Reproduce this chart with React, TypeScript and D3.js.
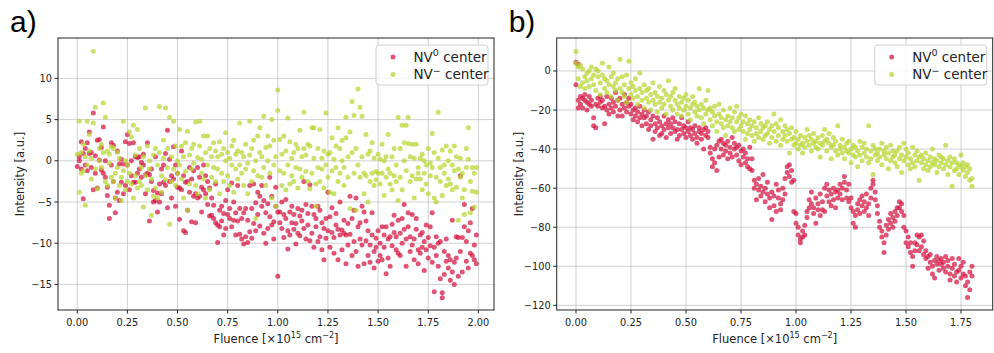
import React from 'react';
import * as d3 from 'd3';

// rows: [fluence, intensity, intensity, ...]
const nv0A: number[][] = [
  [0.00,-0.7],[0.01,0.5,0.0],[0.02,2.3,-1.0],[0.03,-4.6,0.9],[0.04,-0.5,1.5],[0.05,2.2,-1.2],[0.06,3.5,0.9],[0.07,-0.8,1.0],[0.08,5.8,-3.5],[0.09,0.6,-1.5],[0.10,2.5,-3.3],
  [0.11,2.6,0.1],[0.12,-1.1,1.6],[0.13,4.1,-1.5],[0.14,-2.0,0.0],[0.15,-4.2,-3.2],[0.16,-5.4,-7.0],[0.17,2.2,-0.5],[0.18,1.9,-2.5],[0.19,-6.3,-4.5],[0.20,-3.8,1.2],
  [0.21,-4.8,-0.4],[0.22,-2.6,0.2],[0.23,-0.4,-4.0],[0.24,-3.0,2.3],[0.25,3.2,-0.5],[0.26,2.1,-3.5],[0.27,-1.8,0.0],[0.28,-2.6,2.2],[0.29,-2.6,0.5],[0.30,-1.5,0.4],
  [0.31,-1.0,0.5],[0.32,-0.2,-2.0],[0.33,0.8,-0.5],[0.34,-1.7,-4.0],[0.35,-1.5,2.2],[0.36,-1.7,-7.3],[0.37,-2.5,-1.0],[0.38,-3.6,-5.0],[0.39,0.5,-4.8],[0.40,-3.9,-6.2],
  [0.41,-2.8,-5.0],[0.42,-1.0,-4.0],[0.43,-2.6,-0.5],[0.44,0.9,-3.0],[0.45,3.7,-5.7],[0.46,-2.5,0.2],[0.47,-1.8,-4.5],[0.48,1.7,-2.2],[0.49,-0.5,-5.5],[0.50,-3.2,-1.5],
  [0.51,-7.1,-3.3],[0.52,1.2,-3.5],[0.53,-1.8,-8.5],[0.54,-2.6,-8.7],[0.55,-2.5,-6.0],[0.56,-0.8,-3.8],[0.57,-7.4,-2.2],[0.58,-4.3,-1.2],[0.59,-4.0,-7.5],[0.60,-0.8,-4.5],
  [0.61,-4.3,-2.0],[0.62,-3.2,-6.2],[0.63,-0.5,-3.5],[0.64,-1.8,-4.0],[0.65,-2.5,-5.3],[0.66,-3.3,-6.7],[0.67,-6.6,-4.5],[0.68,-7.0,-5.4],[0.69,-2.8,-7.5],[0.70,-7.8,-9.9],
  [0.71,-8.0,-6.0],[0.72,-5.5,-7.3],[0.73,-9.0,-6.4],[0.74,-4.8,-8.2],[0.75,-6.5,-3.5],[0.76,-7.0,-5.8],[0.77,-2.7,-8.0],[0.78,-7.2,-5.0],[0.79,-9.0,-6.3],[0.80,-7.3,-3.0],
  [0.81,-8.9,-5.8],[0.82,-9.5,-7.0],[0.83,-10.1,-6.3],[0.84,-9.2,-5.8],[0.85,-9.9,-7.2],[0.86,-3.0,-8.6],[0.87,-5.8,-9.4],[0.88,-2.8,-7.6],[0.89,-5.1,-8.5],[0.90,-3.8,-6.5],
  [0.91,-4.3,-7.9],[0.92,-3.0,-5.5],[0.93,-8.8,-4.8],[0.94,-6.3,-10.0],[0.95,-5.2,-8.2],[0.96,-2.0,-6.8],[0.97,-7.8,-4.3],[0.98,-9.5,-7.4],[0.99,-3.2,-5.5],[1.00,-6.2,-14.0],
  [1.01,-7.5,-6.2],[1.02,-8.2,-5.0],[1.03,-9.3,-6.5],[1.04,-7.0,-4.7],[1.05,-10.7,-8.5],[1.06,-6.2,-9.0],[1.07,-7.5,-5.5],[1.08,-8.3,-6.5],[1.09,-10.1,-7.6],[1.10,-5.8,-8.8],
  [1.11,-6.7,-9.1],[1.12,-6.0,-7.3],[1.13,-2.5,-8.2],[1.14,-5.3,-9.5],[1.15,-7.8,-6.4],[1.16,-2.9,-9.7],[1.17,-5.5,-8.8],[1.18,-6.5,-10.5],[1.19,-8.0,-7.0],[1.20,-5.5,-9.8],
  [1.21,-9.2,-6.0],[1.22,-10.8,-7.5],[1.23,-12.0,-8.2],[1.24,-7.0,-9.4],[1.25,-3.8,-8.5],[1.26,-6.8,-10.5],[1.27,-5.7,-8.7],[1.28,-9.3,-11.2],[1.29,-7.8,-6.4],[1.30,-8.3,-12.0],
  [1.31,-5.0,-9.0],[1.32,-8.4,-10.8],[1.33,-8.8,-7.2],[1.34,-9.0,-12.5],[1.35,-7.6,-10.2],[1.36,-4.3,-8.9],[1.37,-11.5,-7.0],[1.38,-9.8,-6.0],[1.39,-4.5,-11.0],[1.40,-8.0,-12.8],
  [1.41,-7.5,-9.5],[1.42,-5.5,-10.2],[1.43,-6.2,-12.5],[1.44,-9.7,-7.3],[1.45,-11.5,-8.5],[1.46,-10.2,-12.3],[1.47,-9.0,-6.3],[1.48,-11.0,-13.0],[1.49,-9.4,-10.5],[1.50,-8.5,-12.2],
  [1.51,-10.0,-11.5],[1.52,-8.0,-12.0],[1.53,-10.5,-9.0],[1.54,-8.0,-13.7],[1.55,-11.8,-9.5],[1.56,-9.2,-12.8],[1.57,-7.7,-10.3],[1.58,-8.7,-6.6],[1.59,-9.2,-10.8],[1.60,-7.2,-11.2],
  [1.61,-8.8,-11.5],[1.62,-7.0,-10.0],[1.63,-5.3,-8.3],[1.64,-9.5,-12.8],[1.65,-6.3,-8.0],[1.66,-9.2,-11.0],[1.67,-10.2,-6.5],[1.68,-9.5,-12.0],[1.69,-8.3,-7.0],[1.70,-10.8,-12.5],
  [1.71,-9.0,-11.2],[1.72,-8.7,-10.5],[1.73,-13.3,-9.8],[1.74,-7.8,-10.8],[1.75,-11.8,-9.3],[1.76,-10.3,-8.0],[1.77,-6.3,-12.3],[1.78,-10.5,-15.9],[1.79,-9.2,-11.5],[1.80,-10.0,-12.8],
  [1.81,-14.3,-9.8],[1.82,-16.0,-16.6],[1.83,-13.8,-11.0],[1.84,-12.2,-9.5],[1.85,-13.0,-11.5],[1.86,-14.5,-12.0],[1.87,-13.5,-7.2],[1.88,-12.3,-15.0],[1.89,-9.2,-11.8],[1.90,-14.0,-9.3],
  [1.91,-11.0,-1.8],[1.92,-9.3,-13.5],[1.93,-5.3,-8.0],[1.94,-9.8,-12.2],[1.95,-8.5,-13.0],[1.96,-11.2,-7.5],[1.97,-11.5,-5.8],[1.98,-12.0,-10.2],[1.99,-12.5,-9.0],
];

const nvmA: number[][] = [
  [0.00,0.8],[0.01,4.8,-3.8],[0.02,-1.5,1.0],[0.03,2.0,-1.2],[0.04,-5.4,0.5],[0.05,4.8,-0.5],[0.06,1.2,3.2],[0.07,-2.2,0.3],[0.08,13.3,4.6],[0.09,6.5,-1.0],[0.10,-3.4],
  [0.11,1.5,0.0],[0.12,2.0,-0.8],[0.13,7.0,1.0],[0.14,5.3,-2.5],[0.15,1.2,-3.0],[0.16,-0.3,0.8],[0.17,-2.0,1.7],[0.18,-2.5,1.5],[0.19,-4.5,-1.5],[0.20,-0.8,1.0],
  [0.21,-3.0,0.3],[0.22,-2.0,-4.8],[0.23,4.8,-1.2],[0.24,-3.5,0.0],[0.25,-0.5,-2.5],[0.26,-1.5,3.5],[0.27,2.9,-2.8],[0.28,-4.5,4.3],[0.29,-1.8,0.7],[0.30,3.8,-3.3],
  [0.31,-2.5,1.5],[0.32,-0.8,-3.0],[0.33,0.5,-5.6],[0.34,6.4,-1.8],[0.35,1.8,-3.5],[0.36,0.0,-1.0],[0.37,-6.6,-2.2],[0.38,-4.3,0.7],[0.39,1.5,-3.3],[0.40,-0.5,-4.5],
  [0.41,6.6,1.0],[0.42,-1.8,-3.8],[0.43,2.5,0.3],[0.44,6.4,-2.3],[0.45,-0.8,1.5],[0.46,5.3,-7.7],[0.47,0.5,-2.5],[0.48,4.8,-1.0],[0.49,1.8,-3.0],[0.50,0.0,-1.5],
  [0.51,3.8,-0.5],[0.52,-2.2,1.8],[0.53,0.5,-4.5],[0.54,2.2,-1.3],[0.55,3.6,-6.0],[0.56,0.7,-2.8],[0.57,1.5,-1.0],[0.58,-0.3,2.0],[0.59,4.7,-3.0],[0.60,0.4,-4.0],
  [0.61,4.8,1.8],[0.62,0.2,-1.5],[0.63,-2.2,3.0],[0.64,1.0,-4.5],[0.65,3.0,-0.5],[0.66,-3.5,1.5],[0.67,0.5,-2.0],[0.68,2.2,-0.8],[0.69,1.2,-2.5],[0.70,-1.0,0.5],
  [0.71,2.3,-4.0],[0.72,-1.5,0.8],[0.73,1.5,-2.5],[0.74,3.4,0.0],[0.75,-1.8,1.0],[0.76,-3.0,0.3],[0.77,-0.5,1.8],[0.78,2.5,-3.8],[0.79,0.8,-1.0],[0.80,-2.2,1.2],
  [0.81,4.6,-0.5],[0.82,-1.5,1.0],[0.83,-3.0,0.5],[0.84,-1.0,2.0],[0.85,-0.3,-4.0],[0.86,4.8,0.7],[0.87,-2.5,1.5],[0.88,-1.2,2.5],[0.89,-7.0,0.0],[0.90,3.0,-1.8],
  [0.91,4.0,1.0],[0.92,-2.0,0.5],[0.93,5.4,-0.8],[0.94,1.6,-3.0],[0.95,3.0,0.0],[0.96,-1.5,1.8],[0.97,5.0,-4.5],[0.98,2.5,-0.5],[0.99,-5.5,0.5],[1.00,8.6,6.1],
  [1.01,2.6,-1.2],[1.02,0.8,-3.0],[1.03,3.0,-1.5],[1.04,-3.5,1.2],[1.05,5.2,-0.5],[1.06,-2.8,2.3],[1.07,0.3,-1.8],[1.08,1.0,-2.5],[1.09,2.0,-0.8],[1.10,1.5,-3.3],
  [1.11,3.7,-1.0],[1.12,0.5,-2.0],[1.13,5.9,1.5],[1.14,-1.3,0.7],[1.15,-2.5,2.0],[1.16,1.8,-3.4],[1.17,4.0,-1.5],[1.18,0.3,4.0],[1.19,-2.8,-5.5],[1.20,1.5,-0.8],
  [1.21,3.8,-2.5],[1.22,-1.0,0.3],[1.23,-3.3,1.2],[1.24,5.8,-0.5],[1.25,0.8,-2.0],[1.26,1.0,-3.8],[1.27,2.8,-1.2],[1.28,0.2,-4.0],[1.29,1.8,-0.8],[1.30,4.0,-2.5],
  [1.31,1.5,-1.5],[1.32,2.5,0.0],[1.33,-0.8,-3.0],[1.34,5.3,2.8],[1.35,0.5,-2.0],[1.36,3.5,-5.8],[1.37,7.2,1.0],[1.38,5.5,-1.5],[1.39,1.5,-6.0],[1.40,8.7,-0.5],
  [1.41,6.5,-2.0],[1.42,5.4,0.5],[1.43,-1.5,-4.0],[1.44,3.2,-1.8],[1.45,0.8,-5.0],[1.46,-2.5,1.2],[1.47,2.2,-1.5],[1.48,-3.0,0.3],[1.49,-1.3,-2.3],[1.50,0.8,-1.5],
  [1.51,-2.8,0.2],[1.52,-1.5,2.0],[1.53,0.0,-4.2],[1.54,-2.0,0.5],[1.55,3.2,-1.0],[1.56,-2.8,-1.5],[1.57,0.5,-3.5],[1.58,-1.8,1.5],[1.59,-2.5,-0.5],[1.60,5.3,-4.8],
  [1.61,1.5,-2.0],[1.62,4.3,-3.5],[1.63,2.2,0.0],[1.64,4.3,-1.2],[1.65,5.3,2.1],[1.66,-2.5,0.5],[1.67,2.0,-1.8],[1.68,-4.5,0.3],[1.69,2.0,-2.2],[1.70,-0.8,-1.5],
  [1.71,0.3,-2.2],[1.72,0.8,-3.5],[1.73,-1.5,0.0],[1.74,-0.5,-2.8],[1.75,1.5,-4.0],[1.76,-0.3,-1.8],[1.77,3.3,-0.8],[1.78,-4.5,1.0],[1.79,-2.0,-5.0],[1.80,5.9,0.3],
  [1.81,-0.8,-2.5],[1.82,1.3,-4.2],[1.83,-0.5,-1.5],[1.84,1.8,-3.0],[1.85,0.0,-2.2],[1.86,-2.8,1.2],[1.87,-3.5,-0.5],[1.88,1.8,-1.2],[1.89,-3.2,0.5],[1.90,-7.2,-1.0],
  [1.91,-2.0,0.3],[1.92,-4.5,-1.5],[1.93,-6.5,-3.5],[1.94,1.5,-0.8],[1.95,4.0,0.2],[1.96,-2.5,-6.3],[1.97,-0.8,-3.7],[1.98,-5.6,-1.5],[1.99,-0.8,-3.8],
];

const nv0B: number[][] = [
  [0.00,4.5,-7],[0.01,3.5,-15,-19],[0.02,-13,-17],[0.03,-14,-19],[0.04,-15,-12],[0.05,-16,-20],[0.06,-13,-17],[0.07,-15,-18],[0.08,-24,-28],[0.09,-29,-17],[0.10,-18,-14],
  [0.11,-16,-13],[0.12,-19,-15],[0.13,-27,-18],[0.14,-13,-20],[0.15,-17,-22],[0.16,-19,-14],[0.17,-21,-16],[0.18,-11,-18],[0.19,-15,-23],[0.20,-14,-20],
  [0.21,-17,-23],[0.22,-19,-12],[0.23,-16,-21],[0.24,-18,-14],[0.25,-22,-17],[0.26,-20,-25],[0.27,-19,-23],[0.28,-26,-21],[0.29,-18,-24],[0.30,-22,-28],
  [0.31,-24,-20],[0.32,-27,-23],[0.33,-21,-30],[0.34,-25,-28],[0.35,-35,-23],[0.36,-27,-31],[0.37,-29,-24],[0.38,-26,-33],[0.39,-28,-32],[0.40,-23,-30],
  [0.41,-27,-34],[0.42,-25,-29],[0.43,-32,-27],[0.44,-29,-24],[0.45,-26,-31],[0.46,-30,-35],[0.47,-27,-33],[0.48,-24,-30],[0.49,-32,-28],[0.50,-29,-34],
  [0.51,-26,-31],[0.52,-33,-29],[0.53,-35,-30],[0.54,-28,-32],[0.55,-34,-37],[0.56,-31,-29],[0.57,-35,-32],[0.58,-30,-40],[0.59,-33,-29],[0.60,-31,-34],
  [0.61,-39,-42],[0.62,-45,-49],[0.63,-40,-47],[0.64,-51,-38],[0.65,-36,-44],[0.66,-35,-40],[0.67,-37,-43],[0.68,-41,-38],[0.69,-36,-45],[0.70,-39,-42],
  [0.71,-34,-44],[0.72,-40,-37],[0.73,-43,-39],[0.74,-38,-46],[0.75,-41,-48],[0.76,-44,-40],[0.77,-47,-42],[0.78,-49,-45],[0.79,-39,-50],[0.80,-45,-51],
  [0.81,-56,-60],[0.82,-58,-66],[0.83,-61,-55],[0.84,-64,-59],[0.85,-53,-62],[0.86,-60,-67],[0.87,-63,-57],[0.88,-65,-70],[0.89,-76,-62],[0.90,-64,-69],
  [0.91,-58,-72],[0.92,-65,-61],[0.93,-68,-71],[0.94,-60,-66],[0.95,-55,-63],[0.96,-49,-52],[0.97,-48,-54],[0.98,-51,-57],[0.99,-56,-72],[1.00,-73,-78],
  [1.01,-80,-84],[1.02,-86,-88],[1.03,-85,-82],[1.04,-79,-84],[1.05,-75,-72],[1.06,-70,-66],[1.07,-62,-68],[1.08,-73,-70],[1.09,-65,-78],[1.10,-71,-68],
  [1.11,-74,-63],[1.12,-67,-71],[1.13,-60,-72],[1.14,-64,-58],[1.15,-67,-61],[1.16,-63,-69],[1.17,-66,-60],[1.18,-62,-70],[1.19,-65,-61],[1.20,-58,-63],
  [1.21,-66,-60],[1.22,-54,-57],[1.23,-61,-65],[1.24,-58,-67],[1.25,-70,-65],[1.26,-78,-72],[1.27,-80,-74],[1.28,-71,-68],[1.29,-66,-73],[1.30,-69,-64],
  [1.31,-72,-67],[1.32,-63,-70],[1.33,-68,-74],[1.34,-65,-60],[1.35,-56,-58],[1.36,-62,-66],[1.37,-73,-69],[1.38,-80,-77],[1.39,-85,-82],[1.40,-93,-88],
  [1.41,-84,-79],[1.42,-76,-81],[1.43,-73,-78],[1.44,-75,-80],[1.45,-72,-77],[1.46,-74,-70],[1.47,-67,-70],[1.48,-68,-72],[1.49,-74,-80],[1.50,-82,-88],
  [1.51,-90,-85],[1.52,-93,-88],[1.53,-95,-100],[1.54,-88,-92],[1.55,-84,-89],[1.56,-85,-92],[1.57,-84,-90],[1.58,-87,-94],[1.59,-92,-96],[1.60,-95,-101],
  [1.61,-98,-94],[1.62,-100,-104],[1.63,-97,-106],[1.64,-99,-95],[1.65,-102,-97],[1.66,-96,-99],[1.67,-98,-101],[1.68,-95,-103],[1.69,-100,-97],[1.70,-104,-107],
  [1.71,-101,-96],[1.72,-99,-105],[1.73,-103,-108],[1.74,-96,-102],[1.75,-100,-106],[1.76,-98,-104],[1.77,-105,-110],[1.78,-108,-116],[1.79,-103,-112],[1.80,-105,-100],
];

const nvmB: number[][] = [
  [0.00,10,4],[0.01,2,-4],[0.02,3,-8],[0.03,1,-6],[0.04,-3,-9],[0.05,-1,-5],[0.06,0,-8],[0.07,-4,2],[0.08,-7,-2],[0.09,1,-10],[0.10,-3,0],
  [0.11,-6,-12],[0.12,-2,4],[0.13,-9,-4],[0.14,-5,-11],[0.15,2,-7],[0.16,-3,-13],[0.17,-8,-1],[0.18,-10,-6],[0.19,-4,-15],[0.20,6,-9],
  [0.21,-11,-3],[0.22,-7,-13],[0.23,-2,-16],[0.24,5,-9],[0.25,-12,-6],[0.26,-8,-14],[0.27,-10,-4],[0.28,-13,-17],[0.29,-1,-9],[0.30,-11,-15],
  [0.31,-7,-19],[0.32,-14,-10],[0.33,-9,-16],[0.34,-12,-20],[0.35,-6,-15],[0.36,-17,-11],[0.37,-13,-21],[0.38,-8,-16],[0.39,-14,-19],[0.40,-10,-17],
  [0.41,-12,-22],[0.42,-5,-15],[0.43,-18,-13],[0.44,-11,-20],[0.45,-15,-9],[0.46,-17,-22],[0.47,-13,-19],[0.48,-16,-23],[0.49,-20,-14],[0.50,-18,-12],
  [0.51,-15,-22],[0.52,-19,-25],[0.53,-17,-13],[0.54,-21,-16],[0.55,-23,-18],[0.56,-9,-20],[0.57,-24,-17],[0.58,-19,-27],[0.59,-22,-15],[0.60,-10,-20],
  [0.61,-25,-19],[0.62,-21,-28],[0.63,-18,-23],[0.64,-26,-31],[0.65,-22,-17],[0.66,-27,-24],[0.67,-20,-29],[0.68,-25,-33],[0.69,-23,-28],[0.70,-19,-26],
  [0.71,-29,-24],[0.72,-21,-31],[0.73,-26,-18],[0.74,-24,-30],[0.75,-28,-22],[0.76,-31,-26],[0.77,-23,-35],[0.78,-27,-32],[0.79,-30,-25],[0.80,-33,-28],
  [0.81,-26,-36],[0.82,-29,-32],[0.83,-24,-34],[0.84,-31,-27],[0.85,-35,-29],[0.86,-28,-33],[0.87,-32,-26],[0.88,-30,-37],[0.89,-34,-28],[0.90,-22,-31],
  [0.91,-27,-36],[0.92,-33,-29],[0.93,-25,-38],[0.94,-31,-35],[0.95,-28,-33],[0.96,-36,-30],[0.97,-32,-42],[0.98,-29,-35],[0.99,-34,-38],[1.00,-31,-37],
  [1.01,-35,-40],[1.02,-33,-38],[1.03,-37,-42],[1.04,-34,-39],[1.05,-30,-36],[1.06,-38,-33],[1.07,-35,-41],[1.08,-32,-37],[1.09,-36,-39],[1.10,-40,-34],
  [1.11,-37,-44],[1.12,-33,-38],[1.13,-30,-36],[1.14,-35,-41],[1.15,-37,-32],[1.16,-39,-45],[1.17,-34,-38],[1.18,-41,-36],[1.19,-28,-43],[1.20,-38,-40],
  [1.21,-35,-42],[1.22,-39,-45],[1.23,-37,-41],[1.24,-42,-36],[1.25,-40,-47],[1.26,-38,-43],[1.27,-44,-39],[1.28,-41,-49],[1.29,-36,-43],[1.30,-39,-46],
  [1.31,-42,-37],[1.32,-44,-40],[1.33,-28,-47],[1.34,-41,-45],[1.35,-38,-53],[1.36,-43,-40],[1.37,-46,-42],[1.38,-40,-44],[1.39,-37,-48],[1.40,-43,-41],
  [1.41,-45,-39],[1.42,-42,-50],[1.43,-38,-46],[1.44,-44,-41],[1.45,-47,-43],[1.46,-41,-49],[1.47,-45,-39],[1.48,-43,-52],[1.49,-37,-46],[1.50,-44,-40],
  [1.51,-48,-42],[1.52,-45,-50],[1.53,-39,-47],[1.54,-43,-49],[1.55,-46,-41],[1.56,-56,-44],[1.57,-47,-43],[1.58,-45,-50],[1.59,-42,-48],[1.60,-46,-51],
  [1.61,-44,-49],[1.62,-40,-47],[1.63,-48,-45],[1.64,-46,-52],[1.65,-43,-49],[1.66,-47,-44],[1.67,-50,-45],[1.68,-38,-48],[1.69,-46,-53],[1.70,-49,-44],
  [1.71,-47,-59],[1.72,-45,-51],[1.73,-50,-47],[1.74,-48,-53],[1.75,-43,-49],[1.76,-51,-47],[1.77,-49,-54],[1.78,-48,-52],[1.79,-50,-56],[1.80,-55,-59],
];

const xTicksA = [0, 0.25, 0.5, 0.75, 1, 1.25, 1.5, 1.75, 2];
const yTicksA = [-15, -10, -5, 0, 5, 10];
const xTicksB = [0, 0.25, 0.5, 0.75, 1, 1.25, 1.5, 1.75];
const yTicksB = [-120, -100, -80, -60, -40, -20, 0];

const RED = '#d41440';
const GREEN = '#b6d630';
const ALPHA = 0.72;
const FONT = 'DejaVu Sans, sans-serif';

const flatten = (rows: number[][]) =>
  rows.flatMap(([fx, ...ys]) => ys.map(v => [fx, v] as [number, number]));

interface PanelProps {
  left: number;
  right: number;
  tag: string;
  xDomain: [number, number];
  yDomain: [number, number];
  xTicks: number[];
  yTicks: number[];
  red: number[][];
  green: number[][];
}

const TOP = 38;
const BOTTOM = 310;

const Panel: React.FC<PanelProps> = ({ left, right, tag, xDomain, yDomain, xTicks, yTicks, red, green }) => {
  const x = d3.scaleLinear().domain(xDomain).range([left, right]);
  const y = d3.scaleLinear().domain(yDomain).range([BOTTOM, TOP]);
  const fx = d3.format('.2f');
  const fy = d3.format('d');
  const cx = (left + right) / 2;
  const legR = right - 6;
  const legL = legR - 112;

  return (
    <g>
      <text x={left - 48} y={32} fontFamily="Liberation Sans, Arial, sans-serif" fontSize={30}>{tag}</text>

      {/* grid */}
      {xTicks.map(t => (
        <line key={'gx' + t} x1={x(t)} x2={x(t)} y1={TOP} y2={BOTTOM} stroke="#b0b0b0" strokeOpacity={0.6} />
      ))}
      {yTicks.map(t => (
        <line key={'gy' + t} x1={left} x2={right} y1={y(t)} y2={y(t)} stroke="#b0b0b0" strokeOpacity={0.6} />
      ))}

      {/* points */}
      {flatten(red).map(([a, b], i) => (
        <circle key={'r' + i} cx={x(a)} cy={y(b)} r={2.5} fill={RED} fillOpacity={ALPHA} />
      ))}
      {flatten(green).map(([a, b], i) => (
        <circle key={'g' + i} cx={x(a)} cy={y(b)} r={2.5} fill={GREEN} fillOpacity={ALPHA} />
      ))}

      {/* frame */}
      <rect x={left} y={TOP} width={right - left} height={BOTTOM - TOP} fill="none" stroke="#222" strokeWidth={1} />

      {/* x axis */}
      {xTicks.map(t => (
        <g key={'tx' + t}>
          <line x1={x(t)} x2={x(t)} y1={BOTTOM} y2={BOTTOM + 3.5} stroke="#222" />
          <text x={x(t)} y={BOTTOM + 15.5} textAnchor="middle" fontFamily={FONT} fontSize={9.8} fill="#222">{fx(t)}</text>
        </g>
      ))}
      {/* y axis */}
      {yTicks.map(t => (
        <g key={'ty' + t}>
          <line x1={left - 3.5} x2={left} y1={y(t)} y2={y(t)} stroke="#222" />
          <text x={left - 6} y={y(t) + 3.5} textAnchor="end" fontFamily={FONT} fontSize={9.8} fill="#222">{fy(t)}</text>
        </g>
      ))}

      <text x={cx} y={343} textAnchor="middle" fontFamily={FONT} fontSize={11.5} fill="#222">
        Fluence [×10<tspan fontSize={8} dy={-5}>15</tspan><tspan dy={5}> cm</tspan><tspan fontSize={8} dy={-5}>−2</tspan><tspan dy={5}>]</tspan>
      </text>
      <text transform={`translate(${left - 34},${(TOP + BOTTOM) / 2}) rotate(-90)`} textAnchor="middle" fontFamily={FONT} fontSize={11.5} fill="#222">
        Intensity [a.u.]
      </text>

      {/* legend */}
      <rect x={legL} y={45} width={legR - legL} height={40} rx={3} fill="#fff" fillOpacity={0.8} stroke="#d0d0d0" />
      <circle cx={legL + 17} cy={57} r={2.5} fill={RED} fillOpacity={ALPHA} />
      <circle cx={legL + 17} cy={74.5} r={2.5} fill={GREEN} fillOpacity={ALPHA} />
      <text x={legL + 37.5} y={61.5} fontFamily={FONT} fontSize={13.5} fill="#222">
        NV<tspan fontSize={9.5} dy={-5.5}>0</tspan><tspan dy={5.5}> center</tspan>
      </text>
      <text x={legL + 37.5} y={79} fontFamily={FONT} fontSize={13.5} fill="#222">
        NV<tspan fontSize={9.5} dy={-5.5}>−</tspan><tspan dy={5.5}>  center</tspan>
      </text>
    </g>
  );
};

export default function App() {
  return (
    <svg width={994} height={353} style={{ position: 'absolute', left: 0, top: 0, background: '#fff' }}>
      <rect width={994} height={353} fill="#fff" />
      <Panel left={58} right={494} tag="a)" xDomain={[-0.096, 2.078]} yDomain={[-18.1, 14.9]}
        xTicks={xTicksA} yTicks={yTicksA} red={nv0A} green={nvmA} />
      <Panel left={556.7} right={992.7} tag="b)" xDomain={[-0.0877, 1.894]} yDomain={[-122.4, 16.9]}
        xTicks={xTicksB} yTicks={yTicksB} red={nv0B} green={nvmB} />
    </svg>
  );
}
